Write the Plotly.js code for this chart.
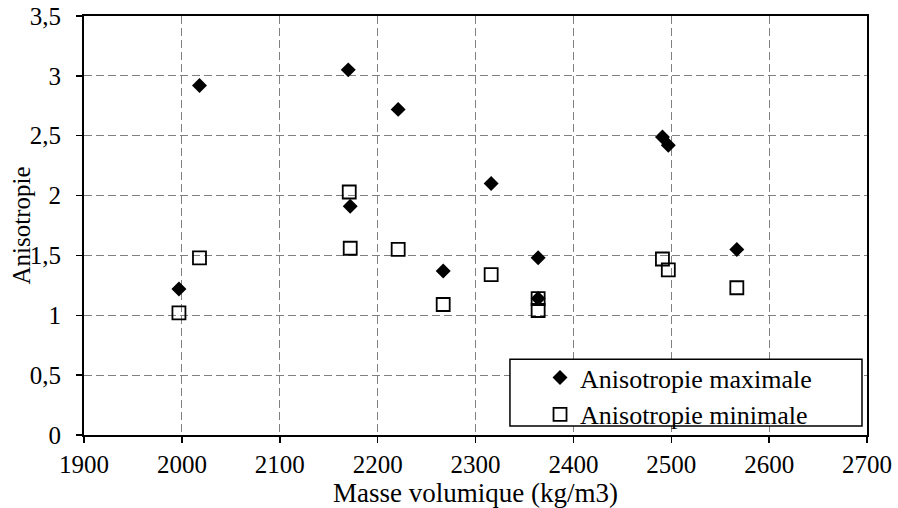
<!DOCTYPE html>
<html>
<head>
<meta charset="utf-8">
<script src="https://cdn.plot.ly/plotly-3.0.1.min.js"></script>
<style>html,body{margin:0;padding:0;background:#fff;}#chart{width:898px;height:508px;}</style>
</head>
<body>
<div id="chart"></div>
<script>
var masseVolumique = [1997, 2018, 2170, 2172, 2221, 2267, 2316, 2364, 2364, 2491, 2497, 2567];
var anisotropieMax = [1.22, 2.92, 3.05, 1.91, 2.72, 1.37, 2.10, 1.48, 1.14, 2.49, 2.42, 1.55];
var masseVolumiqueMin = [1997, 2018, 2171, 2172, 2221, 2267, 2316, 2364, 2364, 2491, 2497, 2567];
var anisotropieMin = [1.02, 1.48, 2.03, 1.56, 1.55, 1.09, 1.34, 1.14, 1.04, 1.47, 1.38, 1.23];
var seriesNames = ['Anisotropie maximale', 'Anisotropie minimale'];
var xTitle = 'Masse volumique (kg/m3)';
var yTitle = 'Anisotropie';

var font = "'Liberation Serif', 'Times New Roman', serif";
var traceMin = {x: masseVolumiqueMin, y: anisotropieMin, name: seriesNames[1], type: 'scatter', mode: 'markers',
   marker: {symbol: 'square-open', size: 13, color: '#000000', line: {width: 1.8, color: '#000000'}}};
var traceMax = {x: masseVolumique, y: anisotropieMax, name: seriesNames[0], type: 'scatter', mode: 'markers',
   marker: {symbol: 'diamond', size: 11.5, color: '#000000', line: {width: 0}}};
var traces = [traceMin, traceMax];

var gridStyle = {gridcolor: '#808080', griddash: '8px,4px', gridwidth: 1};
var layout = {
  width: 898, height: 508,
  margin: {l: 84, r: 31, t: 16, b: 73},
  paper_bgcolor: '#ffffff', plot_bgcolor: '#ffffff',
  separators: ', ',
  font: {family: font, size: 25, color: '#000000'},
  showlegend: true,
  legend: {traceorder: 'reversed', x: 0.5824, y: 0.193, xanchor: 'left', yanchor: 'top',
    bgcolor: 'rgba(0,0,0,0)', borderwidth: 0,
    font: {family: font, size: 26, color: '#000000'}, itemwidth: 30, tracegroupgap: 0},
  shapes: [{type: 'rect', xref: 'paper', yref: 'paper', x0: 0.544, x1: 0.9936, y0: 0.0215, y1: 0.181,
    line: {color: '#000000', width: 1.5}, fillcolor: '#ffffff', layer: 'above'}],
  annotations: [{text: yTitle, xref: 'paper', yref: 'paper', x: -0.0792, y: 0.5,
    xanchor: 'center', yanchor: 'middle', textangle: -90, showarrow: false,
    font: {family: font, size: 25, color: '#000000'}}],
  xaxis: Object.assign({range: [1900, 2700], dtick: 100, tick0: 1900, showgrid: true,
    showline: true, linecolor: '#000000', linewidth: 2, mirror: true,
    ticks: 'outside', ticklen: 6, tickcolor: '#000000', tickwidth: 1.5, zeroline: false,
    tickfont: {family: font, size: 25},
    title: {text: xTitle, font: {family: font, size: 27}, standoff: 0}}, gridStyle),
  yaxis: Object.assign({range: [0, 3.5], dtick: 0.5, tick0: 0, showgrid: true,
    showline: true, linecolor: '#000000', linewidth: 2, mirror: true,
    ticks: 'outside', ticklen: 6, tickcolor: '#000000', tickwidth: 1.5, zeroline: false,
    ticklabelstandoff: 10,
    tickfont: {family: font, size: 25}}, gridStyle)
};
Plotly.newPlot('chart', traces, layout, {displayModeBar: false, staticPlot: true});
</script>
</body>
</html>
